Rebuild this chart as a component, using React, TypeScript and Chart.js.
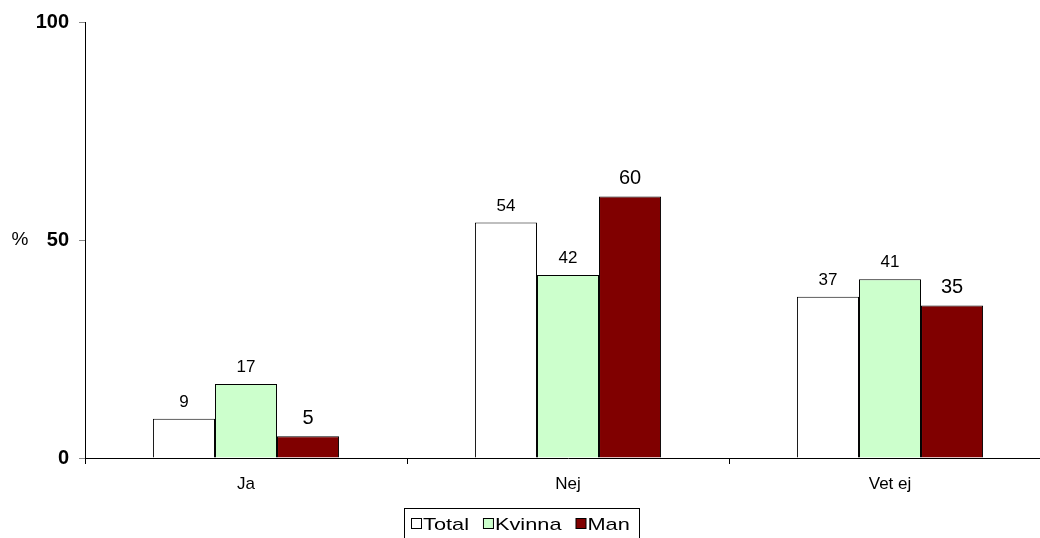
import React, { useEffect, useRef } from "react";
import { Chart, registerables } from "chart.js";

Chart.register(...registerables);

const categories = ["Ja", "Nej", "Vet ej"];
const seriesNames = ["Total", "Kvinna", "Man"];
const totalValues = [9, 54, 37];
const kvinnaValues = [17, 42, 41];
const manValues = [5, 60, 35];
const yTicks = [0, 50, 100];

const FONT = "'Liberation Sans', Arial, sans-serif";
const fills = ["#FFFFFF", "#CCFFCC", "#800000"];
const labelSizes = [17, 17, 20];

const overlayPlugin = {
  id: "overlay",
  afterDatasetsDraw(chart: any) {
    const ctx = chart.ctx;
    ctx.save();
    // value labels
    chart.data.datasets.forEach((ds: any, di: number) => {
      const meta = chart.getDatasetMeta(di);
      meta.data.forEach((bar: any, i: number) => {
        ctx.font = `${labelSizes[di]}px ${FONT}`;
        ctx.fillStyle = "#000";
        ctx.textAlign = "center";
        ctx.textBaseline = "alphabetic";
        ctx.fillText(String(ds.data[i]), bar.x, bar.y - 12);
      });
    });
    // % label
    ctx.font = `19px ${FONT}`;
    ctx.textAlign = "center";
    ctx.textBaseline = "middle";
    ctx.fillText("%", 20, chart.scales.y.getPixelForValue(50));
    // legend
    const items = chart.data.datasets.map((ds: any, i: number) => ({ text: ds.label, fill: fills[i] }));
    const sx = 1.28;
    ctx.font = `17px ${FONT}`;
    const boxX = 404, boxY = 508, boxH = 36;
    let x = 411;
    const sq = 10;
    const cy = 524;
    items.forEach((it: any, i: number) => {
      ctx.fillStyle = it.fill;
      ctx.fillRect(x + 0.5, cy - sq / 2 - 0.5, sq, sq);
      ctx.strokeStyle = "#000";
      ctx.lineWidth = 1;
      ctx.strokeRect(x + 0.5, cy - sq / 2 - 0.5, sq, sq);
      x += sq + 2;
      ctx.fillStyle = "#000";
      ctx.textAlign = "left";
      ctx.textBaseline = "alphabetic";
      ctx.save();
      ctx.translate(x, cy + 6);
      ctx.scale(sx, 1);
      ctx.fillText(it.text, 0, 0);
      ctx.restore();
      x += ctx.measureText(it.text).width * sx + (i < items.length - 1 ? 14 : 0);
    });
    const boxW = 235;
    ctx.strokeStyle = "#000";
    ctx.lineWidth = 1;
    ctx.strokeRect(boxX + 0.5, boxY + 0.5, boxW, boxH);
    ctx.restore();
  },
};

export default function App() {
  const ref = useRef<HTMLCanvasElement>(null);
  useEffect(() => {
    if (!ref.current) return;
    const chart = new Chart(ref.current, {
      type: "bar",
      data: {
        labels: categories,
        datasets: [totalValues, kvinnaValues, manValues].map((vals, i) => ({
          label: seriesNames[i],
          data: vals,
          backgroundColor: fills[i],
          borderColor: "#000",
          borderWidth: 1,
          categoryPercentage: 0.578,
          barPercentage: 1,
        })),
      },
      options: {
        animation: false,
        responsive: false,
        maintainAspectRatio: false,
        layout: { padding: { top: 20, right: 0, left: 0, bottom: 0 } },
        plugins: { legend: { display: false }, tooltip: { enabled: false } },
        scales: {
          x: {
            grid: { display: true, drawOnChartArea: false, drawTicks: true, tickLength: 6, color: "#000", offset: true },
            border: { display: true, color: "#000", width: 1 },
            ticks: { font: { family: FONT, size: 17 }, color: "#000", padding: 10, maxRotation: 0 },
            afterFit: (s: any) => { s.height = 80; },
          },
          y: {
            min: 0,
            max: 100,
            afterBuildTicks: (s: any) => { s.ticks = yTicks.map((v) => ({ value: v })); },
            grid: { display: true, drawOnChartArea: false, drawTicks: true, tickLength: 6, color: "#888" },
            border: { display: true, color: "#000", width: 1 },
            ticks: { font: { family: FONT, size: 20, weight: "bold" }, color: "#000", padding: 10 },
            afterFit: (s: any) => { s.width = 85; },
          },
        },
      },
      plugins: [overlayPlugin, {
        id: "bg",
        beforeDraw(c: any) {
          c.ctx.save();
          c.ctx.fillStyle = "#fff";
          c.ctx.fillRect(0, 0, c.width, c.height);
          c.ctx.restore();
        },
      }],
    } as any);
    return () => chart.destroy();
  }, []);
  return (
    <div style={{ position: "fixed", left: 0, top: 0, width: 1040, height: 538, overflow: "hidden", background: "#fff" }}>
      <canvas ref={ref} width={1051} height={538} style={{ width: 1051, height: 538, display: "block" }} />
    </div>
  );
}
